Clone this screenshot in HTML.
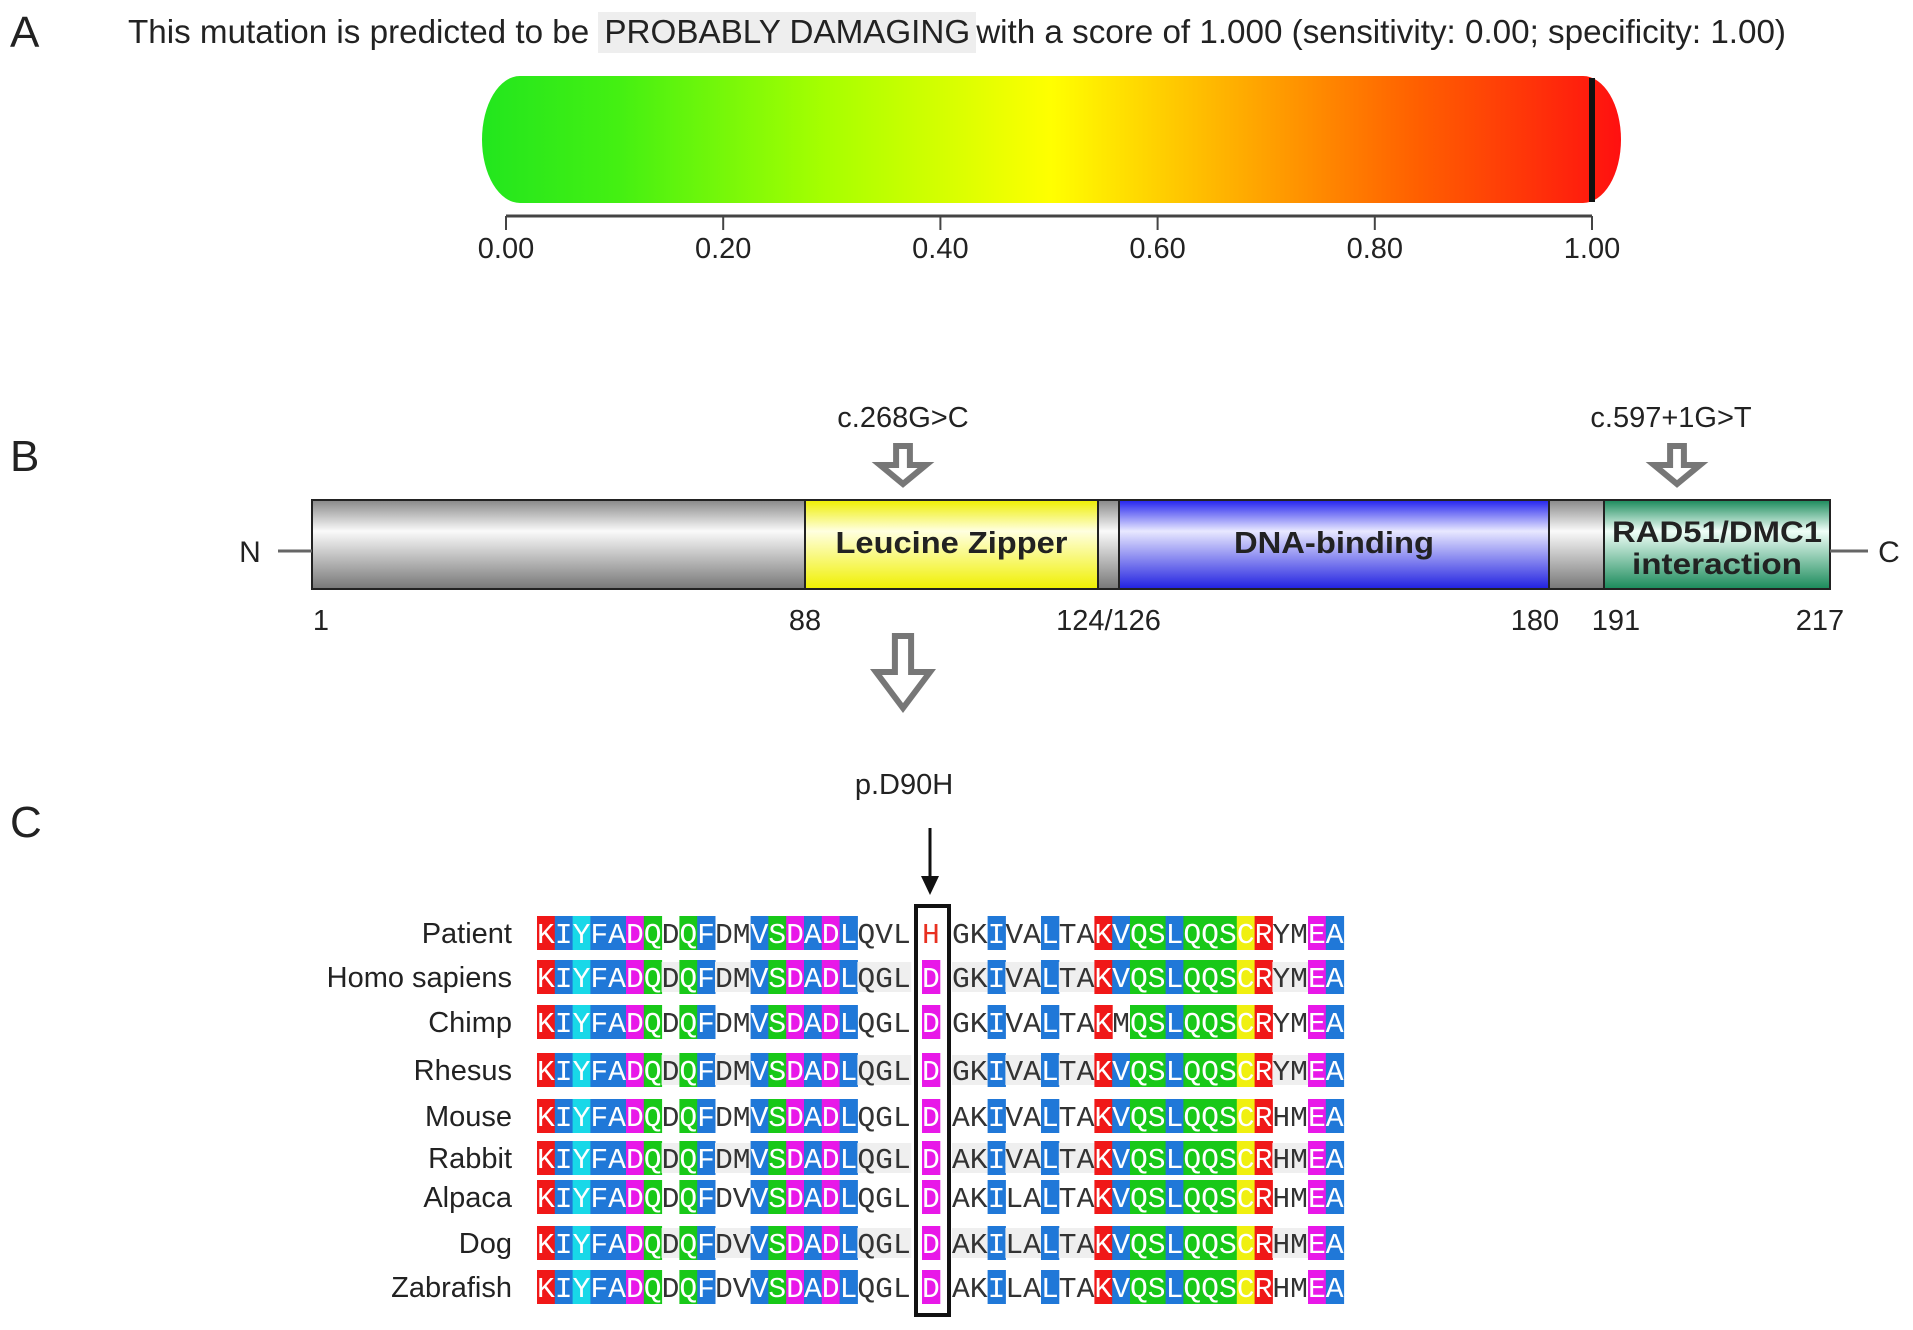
<!DOCTYPE html>
<html><head><meta charset="utf-8">
<style>
html,body{margin:0;padding:0;background:#fff;}
#root{position:relative;width:1913px;height:1330px;overflow:hidden;font-family:"Liberation Sans",sans-serif;color:#222;}
.abs{position:absolute;white-space:nowrap;}
</style></head>
<body>
<div id="root">
<div class="abs" style="left:10px;top:8px;font-size:44px;">A</div>
<div class="abs" style="left:10px;top:432px;font-size:44px;">B</div>
<div class="abs" style="left:10px;top:798px;font-size:44px;">C</div>

<div class="abs" style="left:128px;top:14px;font-size:33.2px;">This mutation is predicted to be <span style="background:#eee;padding:2px 6px;">PROBABLY DAMAGING</span>with a score of 1.000 (sensitivity: 0.00; specificity: 1.00)</div>

<svg class="abs" style="left:0;top:0" width="1913" height="1330">
<defs>
<linearGradient id="heat" x1="0" x2="1" y1="0" y2="0">
<stop offset="0" stop-color="#22e61e"/><stop offset="0.12" stop-color="#44f012"/><stop offset="0.3" stop-color="#a6ff00"/><stop offset="0.5" stop-color="#ffff00"/><stop offset="0.65" stop-color="#ffb400"/><stop offset="0.82" stop-color="#ff6000"/><stop offset="1" stop-color="#ff1010"/>
</linearGradient>
<linearGradient id="gGrey" x1="0" x2="0" y1="0" y2="1"><stop offset="0" stop-color="#888"/><stop offset="0.35" stop-color="#fafafa"/><stop offset="1" stop-color="#777"/></linearGradient>
<linearGradient id="gYel" x1="0" x2="0" y1="0" y2="1"><stop offset="0" stop-color="#eeee00"/><stop offset="0.35" stop-color="#ffffe0"/><stop offset="1" stop-color="#f0f000"/></linearGradient>
<linearGradient id="gBlue" x1="0" x2="0" y1="0" y2="1"><stop offset="0" stop-color="#2222ee"/><stop offset="0.35" stop-color="#e8e8ff"/><stop offset="1" stop-color="#2020e0"/></linearGradient>
<linearGradient id="gGrn" x1="0" x2="0" y1="0" y2="1"><stop offset="0" stop-color="#1a8a5a"/><stop offset="0.35" stop-color="#f0fff8"/><stop offset="1" stop-color="#1a8a5a"/></linearGradient>
</defs>
<g id="scale"></g>
<g id="domains"></g>
<g id="align"></g>
</svg>
</div>
<script>
const tickValues=[0,0.2,0.4,0.6,0.8,1.0];
const tickLabels=["0.00","0.20","0.40","0.60","0.80","1.00"];
const score=[1.0];
const domainLabelsNum=["1","88","124/126","180","191","217"];
const labelPos=[1,88,125,180,191,217];
const species=["Patient","Homo sapiens","Chimp","Rhesus","Mouse","Rabbit","Alpaca","Dog","Zabrafish"];
const seqs=[
"KIYFADQDQFDMVSDADLQVLHGKIVALTAKVQSLQQSCRYMEA",
"KIYFADQDQFDMVSDADLQGLDGKIVALTAKVQSLQQSCRYMEA",
"KIYFADQDQFDMVSDADLQGLDGKIVALTAKMQSLQQSCRYMEA",
"KIYFADQDQFDMVSDADLQGLDGKIVALTAKVQSLQQSCRYMEA",
"KIYFADQDQFDMVSDADLQGLDAKIVALTAKVQSLQQSCRHMEA",
"KIYFADQDQFDMVSDADLQGLDAKIVALTAKVQSLQQSCRHMEA",
"KIYFADQDQFDVVSDADLQGLDAKILALTAKVQSLQQSCRHMEA",
"KIYFADQDQFDVVSDADLQGLDAKILALTAKVQSLQQSCRHMEA",
"KIYFADQDQFDVVSDADLQGLDAKILALTAKVQSLQQSCRHMEA"];
const NS="http://www.w3.org/2000/svg";
function mk(tag,attrs,parent){const e=document.createElementNS(NS,tag);for(const k in attrs)e.setAttribute(k,attrs[k]);parent.appendChild(e);return e;}

// Panel A
const sx=v=>506+v*(1592-506);
const gs=document.getElementById('scale');
let bar=mk('rect',{x:482,y:76,width:1139,height:127,rx:38,ry:64,fill:'url(#heat)'},gs);


let mark=mk('rect',{x:sx(score[0])-3,y:78,width:6,height:124,fill:'#111'},gs);


let ax=mk('line',{x1:sx(0),x2:sx(1),y1:216,y2:216,stroke:'#444','stroke-width':3},gs);


tickValues.forEach((v,i)=>{
 let t=mk('line',{x1:sx(v),x2:sx(v),y1:216,y2:230,stroke:'#444','stroke-width':2},gs);
 
 
 let l=mk('text',{x:sx(v),y:258,'text-anchor':'middle','font-size':29,'font-family':'Liberation Sans, sans-serif',fill:'#222'},gs);
 l.textContent=tickLabels[i];
 
 
});

// Panel B (schematic, non-linear residue → pixel anchors)
const gd=document.getElementById('domains');
const anchorRes=[1,88,124,126,180,191,217];
const anchorPx=[312,805,1098,1119,1549,1604,1830];
function px(p){for(let i=0;i<anchorRes.length-1;i++){if(p<=anchorRes[i+1]){const t=(p-anchorRes[i])/(anchorRes[i+1]-anchorRes[i]);return anchorPx[i]+t*(anchorPx[i+1]-anchorPx[i]);}}return anchorPx[anchorPx.length-1];}
const Y0=500,H=89;
function seg(a,b,fill,name){let r=mk('rect',{x:a,y:Y0,width:b-a,height:H,fill:fill,stroke:'#222','stroke-width':2},gd);return r;}
seg(px(1),px(88),'url(#gGrey)','protein-backbone');
seg(px(124),px(126),'url(#gGrey)','linker-1');
seg(px(180),px(191),'url(#gGrey)','linker-2');
seg(px(88),px(124),'url(#gYel)','leucine-zipper-domain');
seg(px(126),px(180),'url(#gBlue)','dna-binding-domain');
seg(px(191),px(217),'url(#gGrn)','rad51-interaction-domain');
function txt(x,y,s,size,name,extra){let t=mk('text',Object.assign({x:x,y:y,'text-anchor':'middle','font-size':size,'font-family':'Liberation Sans, sans-serif',fill:'#222'},extra||{}),gd);t.textContent=s;return t;}
txt((px(88)+px(124))/2,553,'Leucine Zipper',31,'leucine-zipper-label',{'font-weight':'bold','textLength':232,'lengthAdjust':'spacingAndGlyphs'});
txt((px(126)+px(180))/2,553,'DNA-binding',31,'dna-binding-label',{'font-weight':'bold','textLength':200,'lengthAdjust':'spacingAndGlyphs'});
txt((px(191)+px(217))/2,542,'RAD51/DMC1',30,'rad51-label',{'font-weight':'bold','textLength':210,'lengthAdjust':'spacingAndGlyphs'});
txt((px(191)+px(217))/2,574,'interaction',30,'interaction-label',{'font-weight':'bold','textLength':170,'lengthAdjust':'spacingAndGlyphs'});
txt(250,562,'N',30,'n-terminus-label');
txt(1889,562,'C',30,'c-terminus-label');
let l1=mk('line',{x1:278,x2:312,y1:551,y2:551,stroke:'#666','stroke-width':3},gd);
let l2=mk('line',{x1:1830,x2:1868,y1:551,y2:551,stroke:'#666','stroke-width':3},gd);
const labelShift=[9,0,0,-14,12,-10];
labelPos.forEach((p,i)=>{txt(px(p)+labelShift[i],630,domainLabelsNum[i],29,'position-label');});
txt(903,427,'c.268G>C',29,'mutation-label-1');
txt(1671,427,'c.597+1G>T',29,'mutation-label-2');
function hollow(cx,top,w,h,sw,name){
 const sw2=w*0.3,hh=h*0.5;
 const d=`M${cx-sw2/2},${top} L${cx+sw2/2},${top} L${cx+sw2/2},${top+hh} L${cx+w/2},${top+hh} L${cx},${top+h} L${cx-w/2},${top+hh} L${cx-sw2/2},${top+hh} Z`;
 let p=mk('path',{d:d,fill:'#fff',stroke:'#777','stroke-width':sw,'stroke-linejoin':'miter'},gd);
}
hollow(903,446,46,38,6,'mutation-arrow-1');
hollow(1677,446,46,38,6,'mutation-arrow-2');
hollow(903,636,54,72,6,'zoom-arrow');
txt(904,794,'p.D90H',29,'variant-label');
let ar=mk('line',{x1:930,x2:930,y1:828,y2:880,stroke:'#111','stroke-width':3},gd);
let ah=mk('path',{d:'M921,876 L939,876 L930,895 Z',fill:'#111'},gd);

// Panel C
const ga=document.getElementById('align');
const colors={K:'#f01818',R:'#f01818',I:'#2078d8',F:'#2078d8',A:'#2078d8',L:'#2078d8',V:'#2078d8',M:'#2078d8',Y:'#18d8e8',D:'#e818e8',E:'#e818e8',Q:'#18c818',S:'#18c818',C:'#f0f010'};
const noBgCols=[7,10,11,18,19,20,22,23,25,26,28,29,40,41];
const rowY=[933,977,1022,1070,1116,1158,1197,1243,1287];
const cw=17.8;
function colX(i){if(i<21)return 537+i*cw;if(i===21)return 922;return 952+(i-22)*cw;}
seqs.forEach((s,r)=>{
 const y=rowY[r];
 let lab=mk('text',{x:512,y:y+10,'text-anchor':'end','font-size':29,'font-family':'Liberation Sans, sans-serif',fill:'#222'},ga);
 lab.textContent=species[r];
 
 
 for(let i=0;i<s.length;i++){
  const ch=s[i];const x=colX(i);
  let bg=colors[ch];
  if(noBgCols.includes(i))bg=null;
  if(ch==='H')bg=null;
  if(i===31&&ch==='M')bg=null;
  const mut=(i===21&&ch==='H');
  if(bg){let b=mk('rect',{x:x,y:y-17,width:cw+0.5,height:34,fill:bg},ga);}
  else if(r%2===1){let b=mk('rect',{x:x,y:y-15,width:cw+0.5,height:30,fill:'#efefef'},ga);}
  let t=mk('text',{x:x+cw/2,y:y+10,'text-anchor':'middle','font-size':29,'font-family':'Liberation Mono, monospace',fill:mut?'#e83020':(bg?'#fff':'#333'),textLength:cw,lengthAdjust:'spacingAndGlyphs'},ga);
  t.textContent=ch;
  
  
 }
});
let box=mk('rect',{x:916,y:906,width:33,height:409,fill:'none',stroke:'#111','stroke-width':4},ga);


</script>
</body></html>
